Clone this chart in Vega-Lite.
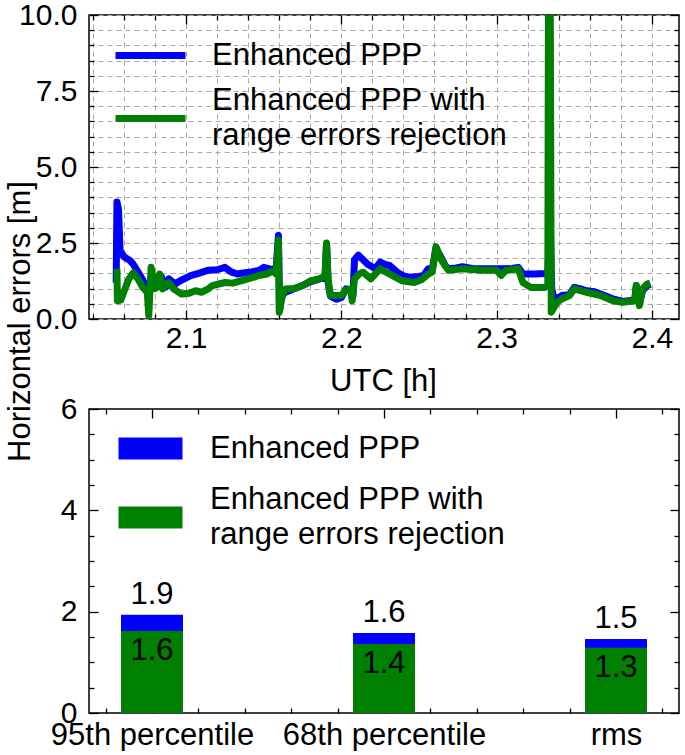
{
  "$schema": "https://vega.github.io/schema/vega-lite/v6.json",
  "background": "white",
  "padding": {"left": 3, "top": -1, "right": 2, "bottom": 0},
  "config": {
    "font": "Liberation Sans",
    "view": {"stroke": "#000000", "strokeWidth": 1.5},
    "axis": {
      "domain": false,
      "labelFontSize": 30,
      "labelColor": "#000000",
      "labelLimit": 400,
      "titleFontSize": 31,
      "titleFontWeight": "normal",
      "titleColor": "#000000",
      "tickColor": "#000000",
      "tickWidth": 1.3,
      "gridColor": "#a8a8a8",
      "gridDash": [5, 4],
      "gridWidth": 1,
      "labelFlush": false,
      "labelOverlap": false
    },
    "legend": {"labelFontSize": 31, "labelColor": "#000000", "labelLimit": 600, "title": null}
  },
  "bounds": "flush",
  "spacing": 90,
  "resolve": {"scale": {"color": "independent"}},
  "datasets": {
    "series": [
      {"t": 2.0550, "err": 1.20, "m": "E"},
      {"t": 2.0555, "err": 3.85, "m": "E"},
      {"t": 2.0565, "err": 3.60, "m": "E"},
      {"t": 2.0575, "err": 2.25, "m": "E"},
      {"t": 2.0600, "err": 2.05, "m": "E"},
      {"t": 2.0640, "err": 1.92, "m": "E"},
      {"t": 2.0660, "err": 1.80, "m": "E"},
      {"t": 2.0690, "err": 1.55, "m": "E"},
      {"t": 2.0720, "err": 1.30, "m": "E"},
      {"t": 2.0750, "err": 0.95, "m": "E"},
      {"t": 2.0760, "err": 0.90, "m": "E"},
      {"t": 2.0780, "err": 1.45, "m": "E"},
      {"t": 2.0810, "err": 1.05, "m": "E"},
      {"t": 2.0840, "err": 1.40, "m": "E"},
      {"t": 2.0870, "err": 1.05, "m": "E"},
      {"t": 2.0890, "err": 1.32, "m": "E"},
      {"t": 2.0930, "err": 1.15, "m": "E"},
      {"t": 2.0960, "err": 1.25, "m": "E"},
      {"t": 2.1000, "err": 1.35, "m": "E"},
      {"t": 2.1030, "err": 1.43, "m": "E"},
      {"t": 2.1080, "err": 1.50, "m": "E"},
      {"t": 2.1140, "err": 1.60, "m": "E"},
      {"t": 2.1200, "err": 1.62, "m": "E"},
      {"t": 2.1250, "err": 1.70, "m": "E"},
      {"t": 2.1290, "err": 1.55, "m": "E"},
      {"t": 2.1330, "err": 1.48, "m": "E"},
      {"t": 2.1380, "err": 1.52, "m": "E"},
      {"t": 2.1420, "err": 1.55, "m": "E"},
      {"t": 2.1470, "err": 1.60, "m": "E"},
      {"t": 2.1500, "err": 1.70, "m": "E"},
      {"t": 2.1540, "err": 1.65, "m": "E"},
      {"t": 2.1580, "err": 1.62, "m": "E"},
      {"t": 2.1595, "err": 2.75, "m": "E"},
      {"t": 2.1603, "err": 0.30, "m": "E"},
      {"t": 2.1615, "err": 0.75, "m": "E"},
      {"t": 2.1640, "err": 0.88, "m": "E"},
      {"t": 2.1700, "err": 1.00, "m": "E"},
      {"t": 2.1750, "err": 1.10, "m": "E"},
      {"t": 2.1800, "err": 1.22, "m": "E"},
      {"t": 2.1860, "err": 1.32, "m": "E"},
      {"t": 2.1895, "err": 1.37, "m": "E"},
      {"t": 2.1905, "err": 2.45, "m": "E"},
      {"t": 2.1915, "err": 1.20, "m": "E"},
      {"t": 2.1930, "err": 0.75, "m": "E"},
      {"t": 2.1970, "err": 0.65, "m": "E"},
      {"t": 2.2000, "err": 0.70, "m": "E"},
      {"t": 2.2030, "err": 0.99, "m": "E"},
      {"t": 2.2060, "err": 0.95, "m": "E"},
      {"t": 2.2075, "err": 0.75, "m": "E"},
      {"t": 2.2085, "err": 1.95, "m": "E"},
      {"t": 2.2110, "err": 2.10, "m": "E"},
      {"t": 2.2140, "err": 1.95, "m": "E"},
      {"t": 2.2170, "err": 1.80, "m": "E"},
      {"t": 2.2220, "err": 1.65, "m": "E"},
      {"t": 2.2250, "err": 1.87, "m": "E"},
      {"t": 2.2280, "err": 1.80, "m": "E"},
      {"t": 2.2310, "err": 1.76, "m": "E"},
      {"t": 2.2360, "err": 1.54, "m": "E"},
      {"t": 2.2400, "err": 1.42, "m": "E"},
      {"t": 2.2440, "err": 1.37, "m": "E"},
      {"t": 2.2500, "err": 1.40, "m": "E"},
      {"t": 2.2530, "err": 1.43, "m": "E"},
      {"t": 2.2560, "err": 1.65, "m": "E"},
      {"t": 2.2585, "err": 1.60, "m": "E"},
      {"t": 2.2610, "err": 2.33, "m": "E"},
      {"t": 2.2640, "err": 2.05, "m": "E"},
      {"t": 2.2670, "err": 1.75, "m": "E"},
      {"t": 2.2690, "err": 1.65, "m": "E"},
      {"t": 2.2740, "err": 1.68, "m": "E"},
      {"t": 2.2780, "err": 1.72, "m": "E"},
      {"t": 2.2860, "err": 1.65, "m": "E"},
      {"t": 2.2950, "err": 1.65, "m": "E"},
      {"t": 2.3000, "err": 1.65, "m": "E"},
      {"t": 2.3050, "err": 1.65, "m": "E"},
      {"t": 2.3100, "err": 1.66, "m": "E"},
      {"t": 2.3140, "err": 1.70, "m": "E"},
      {"t": 2.3170, "err": 1.48, "m": "E"},
      {"t": 2.3250, "err": 1.48, "m": "E"},
      {"t": 2.3310, "err": 1.50, "m": "E"},
      {"t": 2.3330, "err": 1.50, "m": "E"},
      {"t": 2.3345, "err": 3.30, "m": "E"},
      {"t": 2.3355, "err": 1.00, "m": "E"},
      {"t": 2.3365, "err": 0.77, "m": "E"},
      {"t": 2.3390, "err": 0.66, "m": "E"},
      {"t": 2.3420, "err": 0.77, "m": "E"},
      {"t": 2.3470, "err": 0.80, "m": "E"},
      {"t": 2.3500, "err": 1.04, "m": "E"},
      {"t": 2.3550, "err": 0.98, "m": "E"},
      {"t": 2.3580, "err": 0.93, "m": "E"},
      {"t": 2.3630, "err": 0.90, "m": "E"},
      {"t": 2.3670, "err": 0.82, "m": "E"},
      {"t": 2.3720, "err": 0.72, "m": "E"},
      {"t": 2.3750, "err": 0.66, "m": "E"},
      {"t": 2.3810, "err": 0.58, "m": "E"},
      {"t": 2.3850, "err": 0.60, "m": "E"},
      {"t": 2.3890, "err": 0.62, "m": "E"},
      {"t": 2.3900, "err": 1.10, "m": "E"},
      {"t": 2.3920, "err": 0.50, "m": "E"},
      {"t": 2.3940, "err": 0.93, "m": "E"},
      {"t": 2.3970, "err": 1.10, "m": "E"},
      {"t": 2.3990, "err": 1.15, "m": "E"},
      {"t": 2.0555, "err": 1.65, "m": "R"},
      {"t": 2.0558, "err": 0.60, "m": "R"},
      {"t": 2.0580, "err": 0.62, "m": "R"},
      {"t": 2.0600, "err": 0.90, "m": "R"},
      {"t": 2.0630, "err": 1.30, "m": "R"},
      {"t": 2.0660, "err": 1.52, "m": "R"},
      {"t": 2.0690, "err": 1.32, "m": "R"},
      {"t": 2.0720, "err": 1.05, "m": "R"},
      {"t": 2.0750, "err": 0.88, "m": "R"},
      {"t": 2.0760, "err": 0.12, "m": "R"},
      {"t": 2.0775, "err": 1.70, "m": "R"},
      {"t": 2.0800, "err": 1.00, "m": "R"},
      {"t": 2.0815, "err": 1.05, "m": "R"},
      {"t": 2.0830, "err": 1.48, "m": "R"},
      {"t": 2.0850, "err": 0.99, "m": "R"},
      {"t": 2.0870, "err": 1.15, "m": "R"},
      {"t": 2.0890, "err": 1.20, "m": "R"},
      {"t": 2.0920, "err": 0.99, "m": "R"},
      {"t": 2.0970, "err": 0.82, "m": "R"},
      {"t": 2.1020, "err": 0.85, "m": "R"},
      {"t": 2.1060, "err": 0.93, "m": "R"},
      {"t": 2.1100, "err": 0.88, "m": "R"},
      {"t": 2.1140, "err": 0.98, "m": "R"},
      {"t": 2.1170, "err": 1.10, "m": "R"},
      {"t": 2.1250, "err": 1.20, "m": "R"},
      {"t": 2.1300, "err": 1.18, "m": "R"},
      {"t": 2.1360, "err": 1.26, "m": "R"},
      {"t": 2.1420, "err": 1.35, "m": "R"},
      {"t": 2.1470, "err": 1.43, "m": "R"},
      {"t": 2.1520, "err": 1.48, "m": "R"},
      {"t": 2.1560, "err": 1.58, "m": "R"},
      {"t": 2.1580, "err": 1.48, "m": "R"},
      {"t": 2.1595, "err": 2.60, "m": "R"},
      {"t": 2.1600, "err": 0.22, "m": "R"},
      {"t": 2.1620, "err": 0.75, "m": "R"},
      {"t": 2.1640, "err": 0.99, "m": "R"},
      {"t": 2.1700, "err": 1.00, "m": "R"},
      {"t": 2.1750, "err": 1.10, "m": "R"},
      {"t": 2.1800, "err": 1.25, "m": "R"},
      {"t": 2.1860, "err": 1.32, "m": "R"},
      {"t": 2.1895, "err": 1.43, "m": "R"},
      {"t": 2.1905, "err": 2.50, "m": "R"},
      {"t": 2.1915, "err": 1.30, "m": "R"},
      {"t": 2.1930, "err": 0.77, "m": "R"},
      {"t": 2.2000, "err": 0.77, "m": "R"},
      {"t": 2.2030, "err": 0.95, "m": "R"},
      {"t": 2.2060, "err": 0.99, "m": "R"},
      {"t": 2.2070, "err": 0.60, "m": "R"},
      {"t": 2.2085, "err": 1.32, "m": "R"},
      {"t": 2.2120, "err": 1.50, "m": "R"},
      {"t": 2.2140, "err": 1.54, "m": "R"},
      {"t": 2.2190, "err": 1.32, "m": "R"},
      {"t": 2.2250, "err": 1.65, "m": "R"},
      {"t": 2.2310, "err": 1.48, "m": "R"},
      {"t": 2.2390, "err": 1.26, "m": "R"},
      {"t": 2.2470, "err": 1.20, "m": "R"},
      {"t": 2.2520, "err": 1.30, "m": "R"},
      {"t": 2.2560, "err": 1.48, "m": "R"},
      {"t": 2.2585, "err": 1.54, "m": "R"},
      {"t": 2.2610, "err": 2.38, "m": "R"},
      {"t": 2.2640, "err": 1.98, "m": "R"},
      {"t": 2.2690, "err": 1.60, "m": "R"},
      {"t": 2.2780, "err": 1.65, "m": "R"},
      {"t": 2.2900, "err": 1.60, "m": "R"},
      {"t": 2.3000, "err": 1.60, "m": "R"},
      {"t": 2.3030, "err": 1.43, "m": "R"},
      {"t": 2.3060, "err": 1.60, "m": "R"},
      {"t": 2.3140, "err": 1.65, "m": "R"},
      {"t": 2.3170, "err": 1.20, "m": "R"},
      {"t": 2.3220, "err": 1.04, "m": "R"},
      {"t": 2.3310, "err": 1.04, "m": "R"},
      {"t": 2.3330, "err": 1.10, "m": "R"},
      {"t": 2.3335, "err": 12.0, "m": "R"},
      {"t": 2.3345, "err": 12.0, "m": "R"},
      {"t": 2.3352, "err": 0.22, "m": "R"},
      {"t": 2.3390, "err": 0.55, "m": "R"},
      {"t": 2.3420, "err": 0.66, "m": "R"},
      {"t": 2.3470, "err": 0.77, "m": "R"},
      {"t": 2.3500, "err": 0.99, "m": "R"},
      {"t": 2.3580, "err": 0.88, "m": "R"},
      {"t": 2.3670, "err": 0.77, "m": "R"},
      {"t": 2.3750, "err": 0.60, "m": "R"},
      {"t": 2.3810, "err": 0.55, "m": "R"},
      {"t": 2.3890, "err": 0.60, "m": "R"},
      {"t": 2.3900, "err": 1.10, "m": "R"},
      {"t": 2.3920, "err": 0.44, "m": "R"},
      {"t": 2.3940, "err": 0.99, "m": "R"},
      {"t": 2.3970, "err": 1.15, "m": "R"},
      {"t": 2.3990, "err": 1.18, "m": "R"}
    ],
    "stats": [
      {"stat": "95th percentile", "pos": 0, "m": "E", "value": 1.94},
      {"stat": "68th percentile", "pos": 1, "m": "E", "value": 1.58},
      {"stat": "rms", "pos": 2, "m": "E", "value": 1.46},
      {"stat": "95th percentile", "pos": 0, "m": "R", "value": 1.62},
      {"stat": "68th percentile", "pos": 1, "m": "R", "value": 1.36},
      {"stat": "rms", "pos": 2, "m": "R", "value": 1.29}
    ]
  },
  "vconcat": [
    {
      "width": 590,
      "height": 304,
      "data": {"name": "series"},
      "encoding": {
        "x": {
          "field": "t", "type": "quantitative",
          "scale": {"domain": [2.0375, 2.4175], "nice": false, "zero": false},
          "axis": {
            "orient": "bottom",
            "values": [2.04, 2.06, 2.08, 2.1, 2.12, 2.14, 2.16, 2.18, 2.2, 2.22, 2.24, 2.26, 2.28, 2.3, 2.32, 2.34, 2.36, 2.38, 2.4],
            "grid": true,
            "labelExpr": "abs(datum.value*10-round(datum.value*10)) < 0.001 ? format(datum.value, '.1f') : ''",
            "tickSize": {"condition": {"test": "abs(datum.value*10-round(datum.value*10)) < 0.001", "value": -9}, "value": -5},
            "labelPadding": 13,
            "title": "UTC [h]",
            "titleX": 294,
            "titleY": 71,
            "titleAlign": "center",
            "titleBaseline": "alphabetic"
          }
        },
        "y": {
          "field": "err", "type": "quantitative",
          "scale": {"domain": [0, 10], "nice": false},
          "axis": {
            "orient": "left",
            "values": [0, 0.5, 1, 1.5, 2, 2.5, 3, 3.5, 4, 4.5, 5, 5.5, 6, 6.5, 7, 7.5, 8, 8.5, 9, 9.5, 10],
            "grid": true,
            "labelExpr": "datum.value % 2.5 === 0 ? format(datum.value, '.1f') : ''",
            "tickSize": {"condition": {"test": "datum.value % 2.5 === 0", "value": -9}, "value": -5},
            "labelPadding": 21,
            "title": "Horizontal errors [m]",
            "titleFontSize": 31,
            "titleAngle": 270,
            "titleX": -60,
            "titleY": 306,
            "titleAlign": "center",
            "titleBaseline": "alphabetic"
          }
        },
        "color": {
          "field": "m", "type": "nominal",
          "scale": {"domain": ["E", "R"], "range": ["#0000ff", "#008000"]},
          "legend": {
            "orient": "none",
            "legendX": 46,
            "legendY": 25,
            "padding": 0,
            "symbolType": "M-3.5,0H3.5",
            "symbolSize": 400,
            "symbolStrokeWidth": 7,
            "labelOffset": 46,
            "rowPadding": 14,
            "labelExpr": "datum.label === 'E' ? 'Enhanced PPP' : ['Enhanced PPP with', 'range errors rejection']",
            "encode": {"labels": {"update": {"lineHeight": {"value": 35}, "dy": {"signal": "datum.index === 1 ? -17.5 : 0"}}}}
          }
        }
      },
      "resolve": {"axis": {"x": "independent", "y": "independent"}},
      "layer": [
        {
          "transform": [{"filter": "datum.m === 'E'"}],
          "mark": {"type": "line", "strokeWidth": 7, "clip": true, "strokeJoin": "round"}
        },
        {
          "transform": [{"filter": "datum.m === 'R'"}],
          "mark": {"type": "line", "strokeWidth": 7, "clip": true, "strokeJoin": "round"},
          "encoding": {
            "x": {
              "field": "t", "type": "quantitative",
              "scale": {"domain": [2.0375, 2.4175], "nice": false, "zero": false},
              "axis": {
                "orient": "top",
                "values": [2.04, 2.06, 2.08, 2.1, 2.12, 2.14, 2.16, 2.18, 2.2, 2.22, 2.24, 2.26, 2.28, 2.3, 2.32, 2.34, 2.36, 2.38, 2.4],
                "grid": false, "labels": false, "title": null,
                "tickSize": {"condition": {"test": "abs(datum.value*10-round(datum.value*10)) < 0.001", "value": -9}, "value": -5}
              }
            },
            "y": {
              "field": "err", "type": "quantitative",
              "scale": {"domain": [0, 10], "nice": false},
              "axis": {
                "orient": "right",
                "values": [0, 0.5, 1, 1.5, 2, 2.5, 3, 3.5, 4, 4.5, 5, 5.5, 6, 6.5, 7, 7.5, 8, 8.5, 9, 9.5, 10],
                "grid": false, "labels": false, "title": null,
                "tickSize": {"condition": {"test": "datum.value % 2.5 === 0", "value": -9}, "value": -5}
              }
            }
          }
        }
      ]
    },
    {
      "width": 590,
      "height": 304,
      "data": {"name": "stats"},
      "encoding": {
        "x": {
          "field": "pos", "type": "quantitative",
          "scale": {"domain": [-0.25, 2.25], "nice": false, "zero": false}
        },
        "y": {
          "field": "value", "type": "quantitative", "stack": null,
          "scale": {"domain": [0, 6], "nice": false}
        }
      },
      "resolve": {"axis": {"x": "independent", "y": "independent"}},
      "layer": [
        {
          "mark": {"type": "bar", "width": 62, "orient": "vertical"},
          "encoding": {
            "x": {
              "field": "pos", "type": "quantitative",
              "scale": {"domain": [-0.25, 2.25], "nice": false, "zero": false},
              "axis": {
                "orient": "bottom",
                "values": [0, 1, 2],
                "grid": false,
                "labelFontSize": 31,
                "labelExpr": "datum.value === 0 ? '95th percentile' : datum.value === 1 ? '68th percentile' : 'rms'",
                "tickSize": -9,
                "labelPadding": 16,
                "title": null
              }
            },
            "y": {
              "field": "value", "type": "quantitative", "stack": null,
              "scale": {"domain": [0, 6], "nice": false},
              "axis": {
                "orient": "left",
                "values": [0, 2, 4, 6],
                "grid": false,
                "format": "d",
                "tickSize": -9,
                "labelPadding": 21,
                "title": null
              }
            },
            "color": {
              "field": "m", "type": "nominal",
              "scale": {"domain": ["E", "R"], "range": ["#0000ff", "#008000"]},
              "legend": {
                "orient": "none",
                "legendX": 46,
                "legendY": 24,
                "padding": 0,
                "symbolType": "M-3.2,-1.1H3.2V1.1H-3.2Z",
                "symbolSize": 400,
                "symbolStrokeWidth": 0,
                "labelOffset": 44,
                "rowPadding": 20,
                "labelExpr": "datum.label === 'E' ? 'Enhanced PPP' : ['Enhanced PPP with', 'range errors rejection']",
                "encode": {"labels": {"update": {"lineHeight": {"value": 35}, "dy": {"signal": "datum.index === 1 ? -17.5 : 0"}}}}
              }
            }
          }
        },
        {
          "transform": [{"filter": "datum.m === 'E'"}],
          "mark": {"type": "text", "fontSize": 31, "baseline": "alphabetic", "dy": -11, "color": "#000000"},
          "encoding": {
            "text": {"field": "value", "type": "quantitative", "format": ".1f"},
            "x": {
              "field": "pos", "type": "quantitative",
              "scale": {"domain": [-0.25, 2.25], "nice": false, "zero": false},
              "axis": {
                "orient": "bottom",
                "values": [-0.2, 0.2, 0.4, 0.6, 0.8, 1.2, 1.4, 1.6, 1.8, 2.2],
                "grid": false, "labels": false, "title": null,
                "tickSize": -5
              }
            },
            "y": {
              "field": "value", "type": "quantitative", "stack": null,
              "scale": {"domain": [0, 6], "nice": false},
              "axis": {
                "orient": "left",
                "values": [0.5, 1, 1.5, 2.5, 3, 3.5, 4.5, 5, 5.5],
                "grid": false, "labels": false, "title": null,
                "tickSize": -5
              }
            }
          }
        },
        {
          "transform": [{"filter": "datum.m === 'R'"}],
          "mark": {"type": "text", "fontSize": 31, "baseline": "alphabetic", "dy": 29, "color": "#000000"},
          "encoding": {
            "text": {"field": "value", "type": "quantitative", "format": ".1f"},
            "x": {
              "field": "pos", "type": "quantitative",
              "scale": {"domain": [-0.25, 2.25], "nice": false, "zero": false},
              "axis": {
                "orient": "top",
                "values": [-0.2, 0, 0.2, 0.4, 0.6, 0.8, 1, 1.2, 1.4, 1.6, 1.8, 2, 2.2],
                "grid": false, "labels": false, "title": null,
                "tickSize": {"condition": {"test": "datum.value === 0 || datum.value === 1 || datum.value === 2", "value": -9}, "value": -5}
              }
            },
            "y": {
              "field": "value", "type": "quantitative", "stack": null,
              "scale": {"domain": [0, 6], "nice": false},
              "axis": {
                "orient": "right",
                "values": [0, 0.5, 1, 1.5, 2, 2.5, 3, 3.5, 4, 4.5, 5, 5.5, 6],
                "grid": false, "labels": false, "title": null,
                "tickSize": {"condition": {"test": "datum.value % 2 === 0", "value": -9}, "value": -5}
              }
            }
          }
        }
      ]
    }
  ]
}
